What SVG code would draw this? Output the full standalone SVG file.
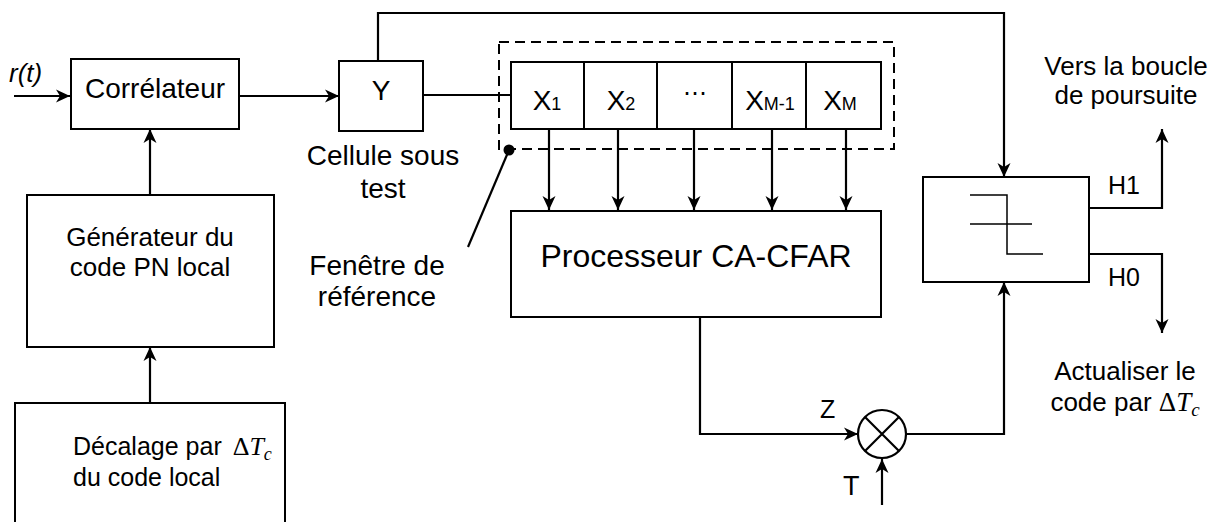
<svg xmlns="http://www.w3.org/2000/svg" width="1222" height="522" viewBox="0 0 1222 522">
<defs>
<marker id="arr" viewBox="-15 -8 16 16" markerWidth="16" markerHeight="16" refX="0" refY="0" orient="auto" markerUnits="userSpaceOnUse">
<path d="M0,0 L-14,-6.5 L-10,0 L-14,6.5 Z" fill="#000"/>
</marker>
</defs>
<style>
.box{fill:#fff;stroke:#000;stroke-width:2}
.ln{fill:none;stroke:#000;stroke-width:2.2}
.thin{fill:none;stroke:#000;stroke-width:1.5}
.t{font-family:"Liberation Sans",Arial,sans-serif;fill:#000}
.m{font-family:"Liberation Serif","Times New Roman",serif;fill:#000}
</style>
<rect width="1222" height="522" fill="#fff"/>

<g id="connectors">
<path class="ln" d="M14,96 H70" marker-end="url(#arr)"/>
<path class="ln" d="M239,96 H339" marker-end="url(#arr)"/>
<path class="ln" d="M150,195 V129" marker-end="url(#arr)"/>
<path class="ln" d="M150,403 V347" marker-end="url(#arr)"/>
<path class="ln" d="M423,95 H511"/>
<path class="ln" d="M378,61 V13 H1004 V177" marker-end="url(#arr)"/>
<path class="ln" d="M549,129 V210" marker-end="url(#arr)"/>
<path class="ln" d="M618,129 V210" marker-end="url(#arr)"/>
<path class="ln" d="M694,129 V210" marker-end="url(#arr)"/>
<path class="ln" d="M772,129 V210" marker-end="url(#arr)"/>
<path class="ln" d="M846,129 V210" marker-end="url(#arr)"/>
<path class="ln" d="M700,317 V434 H858" marker-end="url(#arr)"/>
<path class="ln" d="M882,505 V459" marker-end="url(#arr)"/>
<path class="ln" d="M906,434 H1004 V282" marker-end="url(#arr)"/>
<path class="ln" d="M1089,208 H1162 V129" marker-end="url(#arr)"/>
<path class="ln" d="M1089,254 H1162 V333" marker-end="url(#arr)"/>
<path class="ln" d="M509,150 L468,247"/>
<circle cx="509" cy="150" r="5.5" fill="#000"/>
</g>

<g id="rt">
<text class="t" x="9" y="82" font-size="26" font-style="italic">r(t)</text>
</g>

<g id="correlateur">
<rect class="box" x="71" y="59" width="168" height="70"/>
<text class="t" x="155" y="98" font-size="28" text-anchor="middle">Corrélateur</text>
</g>

<g id="generateur">
<rect class="box" x="27" y="195" width="247" height="152"/>
<text class="t" x="150" y="246" font-size="26" text-anchor="middle">Générateur du</text>
<text class="t" x="150" y="276" font-size="26" text-anchor="middle">code PN local</text>
</g>

<g id="decalage">
<rect class="box" x="15" y="403" width="270" height="130"/>
<text class="t" x="73" y="455" font-size="25">Décalage par <tspan class="m" dx="4" font-size="26">Δ</tspan><tspan class="m" font-size="26" font-style="italic">T</tspan><tspan class="m" font-size="18" font-style="italic" dy="5">c</tspan></text>
<text class="t" x="73" y="486" font-size="25">du code local</text>
</g>

<g id="cellY">
<rect class="box" x="339" y="61" width="84" height="70"/>
<text class="t" x="381" y="100" font-size="28" text-anchor="middle">Y</text>
<text class="t" x="383" y="165" font-size="28" text-anchor="middle">Cellule sous</text>
<text class="t" x="383" y="198" font-size="28" text-anchor="middle">test</text>
</g>

<g id="fenetre">
<rect x="499" y="42" width="395" height="107" fill="none" stroke="#000" stroke-width="2" stroke-dasharray="10,6"/>
<rect class="box" x="511" y="62" width="73" height="67"/>
<rect class="box" x="584" y="62" width="73" height="67"/>
<rect class="box" x="657" y="62" width="75" height="67"/>
<rect class="box" x="732" y="62" width="74" height="67"/>
<rect class="box" x="806" y="62" width="75" height="67"/>
<text class="t" x="547" y="110" font-size="28" text-anchor="middle">X<tspan font-size="18">1</tspan></text>
<text class="t" x="621" y="110" font-size="28" text-anchor="middle">X<tspan font-size="18">2</tspan></text>
<text x="695" y="101" font-family="DejaVu Sans,sans-serif" font-size="24" text-anchor="middle">⋯</text>
<text class="t" x="770" y="110" font-size="28" text-anchor="middle">X<tspan font-size="18">M-1</tspan></text>
<text class="t" x="840" y="110" font-size="28" text-anchor="middle">X<tspan font-size="18">M</tspan></text>
<text class="t" x="377" y="275" font-size="28" text-anchor="middle">Fenêtre de</text>
<text class="t" x="377" y="306" font-size="28" text-anchor="middle">référence</text>
</g>

<g id="processeur">
<rect class="box" x="511" y="211" width="370" height="106"/>
<text class="t" x="696" y="267" font-size="32" text-anchor="middle">Processeur CA-CFAR</text>
</g>

<g id="multiplieur">
<circle cx="882" cy="434" r="24" fill="#fff" stroke="#000" stroke-width="2.2"/>
<path class="ln" d="M865,417 L899,451 M899,417 L865,451"/>
<text class="t" x="820" y="418" font-size="25">Z</text>
<text class="t" x="843" y="495" font-size="27">T</text>
</g>

<g id="decision">
<rect class="box" x="923" y="177" width="166" height="105"/>
<path class="thin" d="M970,195 H1007 V254 H1043 M970,224 H1032"/>
<text class="t" x="1108" y="194" font-size="25">H1</text>
<text class="t" x="1108" y="286" font-size="25">H0</text>
</g>

<g id="sorties">
<text class="t" x="1126" y="75" font-size="26" text-anchor="middle">Vers la boucle</text>
<text class="t" x="1126" y="104" font-size="26" text-anchor="middle">de poursuite</text>
<text class="t" x="1125" y="380" font-size="26" text-anchor="middle">Actualiser le</text>
<text class="t" x="1125" y="411" font-size="26" text-anchor="middle">code par <tspan class="m" font-size="27">Δ</tspan><tspan class="m" font-size="27" font-style="italic">T</tspan><tspan class="m" font-size="19" font-style="italic" dy="5">c</tspan></text>
</g>
</svg>
